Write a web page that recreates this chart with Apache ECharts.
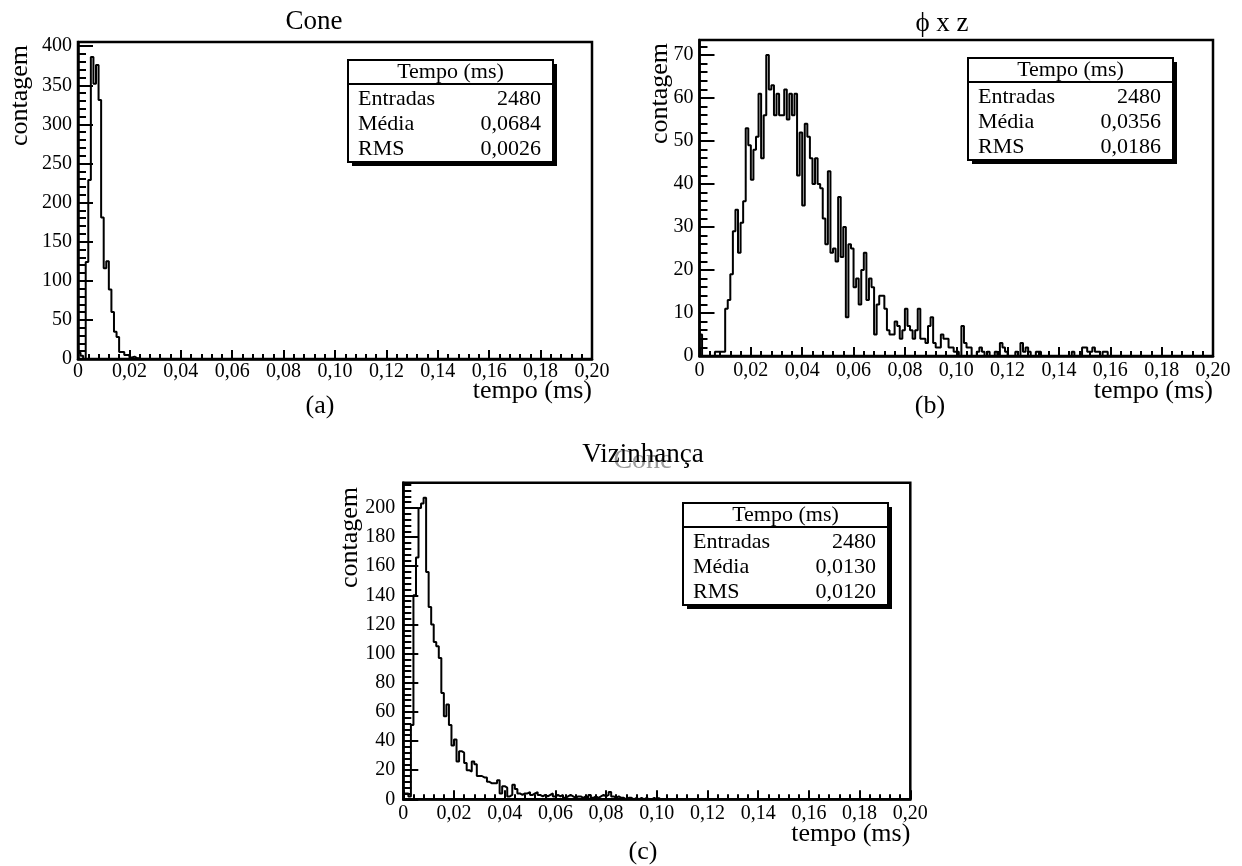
<!DOCTYPE html>
<html>
<head>
<meta charset="utf-8">
<title>Tempo (ms)</title>
<script src="https://cdn.jsdelivr.net/npm/echarts@6.0.0/dist/echarts.min.js"></script>
<style>
  html, body { margin: 0; padding: 0; background: #fff; }
  #chart { width: 1242px; height: 866px; }
</style>
</head>
<body>
<div id="chart"></div>
<script>
// histogram bins are 0.001 ms wide, starting at 0
const binWidth = 0.001;
const xTickLabels = ['0', '0,02', '0,04', '0,06', '0,08', '0,10', '0,12', '0,14', '0,16', '0,18', '0,20'];

// counts per bin, trailing empty bins left out
const countsCone = [8, 4, 0, 124, 229, 386, 352, 376, 331, 181, 116, 125, 89, 60, 35, 28, 9, 9, 5, 5, 2, 3, 1, 1];

const countsPhiZ = [
  5, 0, 0, 0, 0, 0, 1, 1, 1, 1,
  11, 13, 19, 29, 34, 24, 31, 36, 53, 49,
  41, 48, 51, 61, 46, 56, 70, 62, 63, 56,
  61, 56, 56, 62, 55, 61, 56, 61, 42, 52,
  35, 54, 51, 46, 40, 46, 40, 39, 32, 26,
  43, 24, 25, 22, 37, 23, 30, 9, 26, 25,
  16, 18, 12, 20, 24, 13, 18, 16, 5, 12,
  14, 14, 11, 6, 5, 5, 8, 7, 4, 6,
  11, 7, 6, 4, 6, 11, 4, 4, 3, 7,
  9, 3, 2, 2, 5, 4, 4, 2, 2, 1,
  1, 0, 7, 3, 2, 2, 0, 0, 1, 2,
  1, 0, 1, 0, 0, 1, 0, 3, 2, 1,
  0, 0, 0, 1, 0, 3, 1, 2, 1, 0,
  0, 1, 1, 0, 0, 0, 0, 0, 0, 0,
  0, 0, 0, 0, 0, 1, 0, 0, 0, 2,
  2, 1, 1, 2, 1, 1, 0, 1, 1
];

const countsViz = [
  4, 4, 2, 51, 140, 166, 200, 203, 207, 156,
  132, 120, 108, 105, 97, 73, 57, 65, 51, 37,
  41, 26, 33, 32, 25, 20, 19, 26, 24, 16,
  16, 15, 15, 12, 11, 11, 11, 13, 4, 9,
  8, 2, 3, 10, 7, 4, 3, 4, 4, 5,
  3, 4, 5, 3, 2, 3, 2, 3, 4, 2,
  3, 2, 3, 1, 2, 3, 2, 1, 2, 2,
  1, 2, 1, 3, 1, 2, 1, 2, 3, 2,
  3, 5, 2, 1, 2, 1, 1, 0, 1, 1,
  0, 1, 0, 1, 0, 1, 0, 0, 1, 0, 1
];

const statsHeader = 'Tempo (ms)';
const statsLabels = ['Entradas', 'Média', 'RMS'];
const statsCone = ['2480', '0,0684', '0,0026'];
const statsPhiZ = ['2480', '0,0356', '0,0186'];
const statsViz = ['2480', '0,0130', '0,0120'];

const FONT = "'Liberation Serif', 'DejaVu Serif', serif";

const panels = [
  {
    title: 'Cone', caption: '(a)', counts: countsCone, stats: statsCone,
    yMax: 405.3, yStep: 50,
    grid: { left: 78, top: 42, width: 514, height: 317 },
    titlePos: [314, 22], captionPos: [320, 406], xTitleY: 391,
    yTitlePos: [20, 45], statsPos: [348, 60], yLabelMargin: 6, xLabelMargin: 3
  },
  {
    title: 'ϕ x z', caption: '(b)', counts: countsPhiZ, stats: statsPhiZ,
    yMax: 73.5, yStep: 10,
    grid: { left: 699.5, top: 40, width: 513.5, height: 316 },
    titlePos: [942, 24], captionPos: [930, 406], xTitleY: 391,
    yTitlePos: [660, 43], statsPos: [968, 58], yLabelMargin: 6, xLabelMargin: 5
  },
  {
    title: 'Vizinhança', caption: '(c)', counts: countsViz, stats: statsViz,
    yMax: 217.35, yStep: 20,
    grid: { left: 403.3, top: 482.7, width: 507, height: 316.6 },
    titlePos: [643, 455], captionPos: [643, 852], xTitleY: 834,
    yTitlePos: [350, 487], statsPos: [683, 503], yLabelMargin: 8, xLabelMargin: 4
  }
];

function stepData(counts) {
  const pts = counts.map((c, i) => [+(i * binWidth).toFixed(4), c]);
  pts.push([+(counts.length * binWidth).toFixed(4), 0]);
  return pts;
}

function minorValues(max, step) {
  const out = [];
  const sub = step / 5;
  for (let k = 1; k * sub <= max; k++) {
    if (k % 5 !== 0) out.push(+(k * sub).toFixed(6));
  }
  return out;
}

function statsBox(x, y, values) {
  const w = 205, h = 102;
  const font = '22px ' + FONT;
  const children = [
    { type: 'rect', shape: { x: 4, y: 4, width: w, height: h }, style: { fill: '#000' } },
    { type: 'rect', shape: { x: 0, y: 0, width: w, height: h }, style: { fill: '#fff', stroke: '#000', lineWidth: 2 } },
    { type: 'line', shape: { x1: 0, y1: 24, x2: w, y2: 24 }, style: { stroke: '#000', lineWidth: 2 } },
    {
      type: 'text', x: w / 2, y: 12.5,
      style: { text: statsHeader, font, fill: '#000', align: 'center', verticalAlign: 'middle' }
    }
  ];
  statsLabels.forEach((lab, k) => {
    const ty = 39.5 + 25 * k;
    children.push({
      type: 'text', x: 10, y: ty,
      style: { text: lab, font, fill: '#000', align: 'left', verticalAlign: 'middle' }
    });
    children.push({
      type: 'text', x: w - 12, y: ty,
      style: { text: values[k], font, fill: '#000', align: 'right', verticalAlign: 'middle' }
    });
  });
  return { type: 'group', x, y, z: 100, children };
}

const grids = [], xAxes = [], yAxes = [], series = [], graphics = [];

panels.forEach((p, i) => {
  grids.push({
    ...p.grid, show: true, borderColor: '#000', borderWidth: 2.5,
    backgroundColor: 'transparent', containLabel: false, outerBoundsMode: 'none'
  });

  xAxes.push({
    type: 'value', gridIndex: i, min: 0, max: 0.2, interval: 0.02,
    axisLine: { show: true, onZero: false, lineStyle: { color: '#000', width: 2.5 } },
    axisTick: { show: true, inside: true, length: 9, lineStyle: { color: '#000', width: 2 } },
    minorTick: { show: true, splitNumber: 5, length: 5, lineStyle: { color: '#000', width: 2 } },
    splitLine: { show: false },
    axisLabel: {
      margin: p.xLabelMargin, fontSize: 20, fontFamily: FONT, color: '#000',
      formatter: v => xTickLabels[Math.round(v / 0.02)] ?? ''
    }
  });

  // main y axis: labels + major ticks
  yAxes.push({
    type: 'value', gridIndex: i, min: 0, max: p.yMax, interval: p.yStep, position: 'left',
    axisLine: { show: true, onZero: false, lineStyle: { color: '#000', width: 2.5 } },
    axisTick: { show: true, inside: true, length: 15, lineStyle: { color: '#000', width: 2 } },
    splitLine: { show: false },
    axisLabel: {
      margin: p.yLabelMargin, fontSize: 20, fontFamily: FONT, color: '#000',
      formatter: v => (Math.abs(v / p.yStep - Math.round(v / p.yStep)) < 1e-6 ? String(Math.round(v)) : '')
    }
  });
  // companion y axis: minor ticks only
  yAxes.push({
    type: 'value', gridIndex: i, min: 0, max: p.yMax, position: 'left', offset: 0,
    axisLine: { show: false },
    axisLabel: { show: false },
    splitLine: { show: false },
    axisTick: {
      show: true, inside: true, length: 8, customValues: minorValues(p.yMax, p.yStep),
      lineStyle: { color: '#000', width: 2 }
    }
  });

  series.push({
    type: 'line', xAxisIndex: i, yAxisIndex: 2 * i, step: 'end',
    data: stepData(p.counts), symbol: 'none', animation: false,
    lineStyle: { color: '#000', width: 2 }, z: 5
  });

  graphics.push({
    type: 'text', x: p.titlePos[0], y: p.titlePos[1],
    style: { text: p.title, font: '27px ' + FONT, fill: '#000', align: 'center', verticalAlign: 'middle' }
  });
  graphics.push({
    type: 'text', x: p.captionPos[0], y: p.captionPos[1],
    style: { text: p.caption, font: '26px ' + FONT, fill: '#000', align: 'center', verticalAlign: 'middle' }
  });
  graphics.push({
    type: 'text', x: p.grid.left + p.grid.width, y: p.xTitleY,
    style: { text: 'tempo (ms)', font: '26px ' + FONT, fill: '#000', align: 'right', verticalAlign: 'middle' }
  });
  graphics.push({
    type: 'text', x: p.yTitlePos[0], y: p.yTitlePos[1], rotation: Math.PI / 2,
    style: { text: 'contagem', font: '26px ' + FONT, fill: '#000', align: 'right', verticalAlign: 'middle' }
  });
  graphics.push(statsBox(p.statsPos[0], p.statsPos[1], p.stats));
});

// leftover grey title printed under "Vizinhança" in the original
graphics.push({
  type: 'text', x: 643, y: 461, z: -1,
  style: { text: 'Cone', font: '28px ' + FONT, fill: '#9a9a9a', align: 'center', verticalAlign: 'middle' }
});

const chart = echarts.init(document.getElementById('chart'), null, { renderer: 'canvas' });
chart.setOption({
  animation: false,
  backgroundColor: '#fff',
  grid: grids,
  xAxis: xAxes,
  yAxis: yAxes,
  series,
  graphic: graphics
});
</script>
</body>
</html>
